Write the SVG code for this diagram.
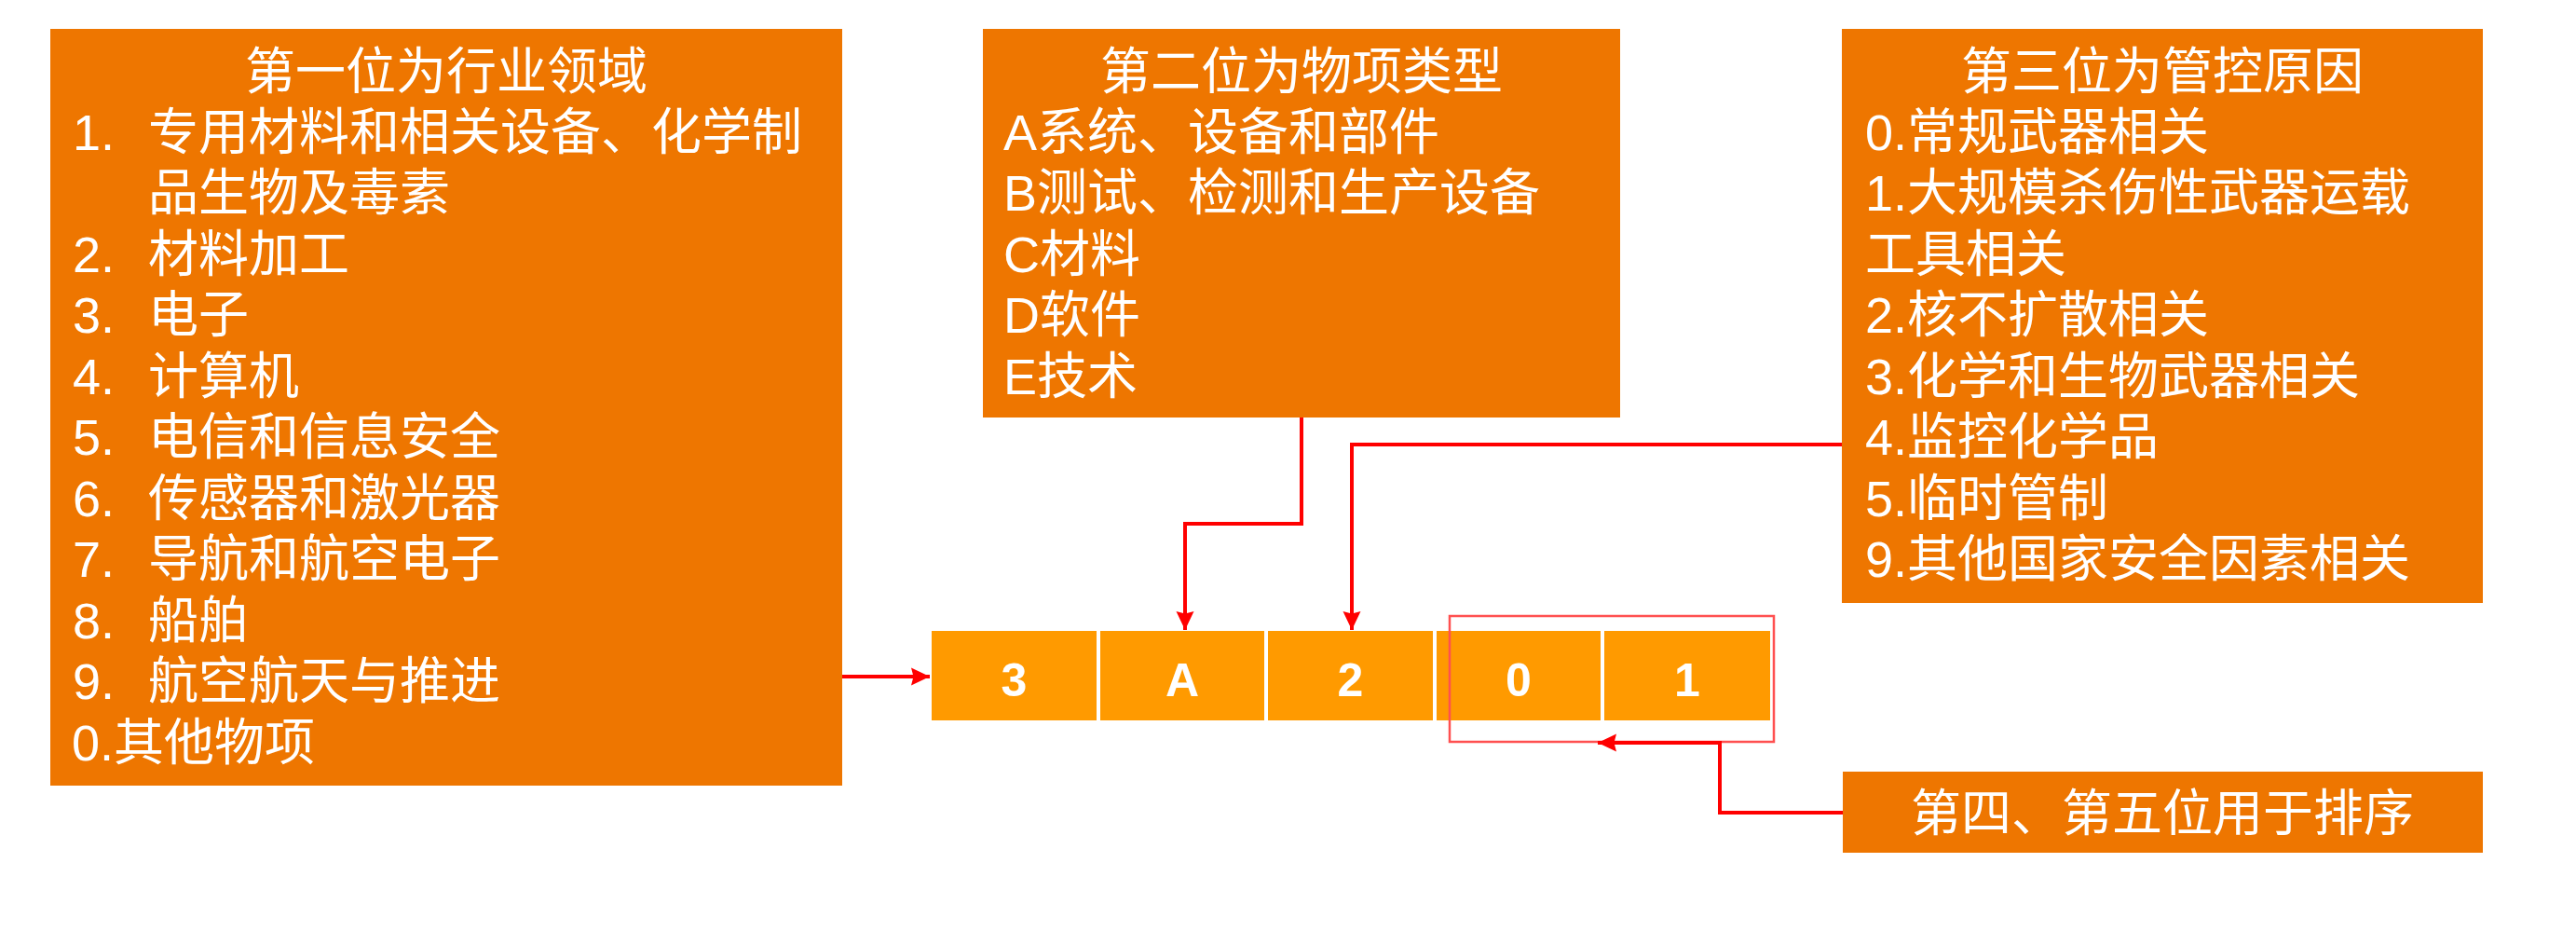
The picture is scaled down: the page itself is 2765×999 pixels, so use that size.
<svg xmlns="http://www.w3.org/2000/svg" width="2765" height="999" viewBox="0 0 2765 999">
<style>
.box{fill:#EE7600}
.cell{fill:#FF9A00}
.t{font-family:"Liberation Sans","Noto Sans CJK SC",sans-serif;font-size:54px;fill:#FFFFFF}
.c{font-family:"Liberation Sans","Noto Sans CJK SC",sans-serif;font-size:50px;font-weight:bold;fill:#FFFFFF;text-anchor:middle}
.mid{text-anchor:middle}
.ln{fill:none;stroke:#FF0000;stroke-width:4}
</style>
<defs>
<marker id="arr" markerUnits="userSpaceOnUse" markerWidth="22" markerHeight="22" viewBox="0 0 22 22" refX="20" refY="11" orient="auto">
<path d="M0,1.5 L20,11 L0,20.5 L2.5,11 Z" fill="#FF0000"/>
</marker>
</defs>
<rect width="2765" height="999" fill="#FFFFFF"/>

<g id="node-industry">
<rect class="box" x="54" y="31" width="850" height="812"/>
<text class="t mid" x="479" y="96">第一位为行业领域</text>
<text class="t" y="161"><tspan x="78">1.</tspan><tspan x="159">专用材料和相关设备、化学制</tspan></text>
<text class="t" x="159" y="226">品生物及毒素</text>
<text class="t" y="292"><tspan x="78">2.</tspan><tspan x="159">材料加工</tspan></text>
<text class="t" y="357"><tspan x="78">3.</tspan><tspan x="159">电子</tspan></text>
<text class="t" y="423"><tspan x="78">4.</tspan><tspan x="159">计算机</tspan></text>
<text class="t" y="488"><tspan x="78">5.</tspan><tspan x="159">电信和信息安全</tspan></text>
<text class="t" y="554"><tspan x="78">6.</tspan><tspan x="159">传感器和激光器</tspan></text>
<text class="t" y="619"><tspan x="78">7.</tspan><tspan x="159">导航和航空电子</tspan></text>
<text class="t" y="685"><tspan x="78">8.</tspan><tspan x="159">船舶</tspan></text>
<text class="t" y="750"><tspan x="78">9.</tspan><tspan x="159">航空航天与推进</tspan></text>
<text class="t" x="77" y="816">0.其他物项</text>
</g>

<g id="node-type">
<rect class="box" x="1055" y="31" width="684" height="417"/>
<text class="t mid" x="1397" y="96">第二位为物项类型</text>
<text class="t" x="1077" y="161">A系统、设备和部件</text>
<text class="t" x="1077" y="226">B测试、检测和生产设备</text>
<text class="t" x="1077" y="292">C材料</text>
<text class="t" x="1077" y="357">D软件</text>
<text class="t" x="1077" y="423">E技术</text>
</g>

<g id="node-reason">
<rect class="box" x="1977" y="31" width="688" height="616"/>
<text class="t mid" x="2321" y="96">第三位为管控原因</text>
<text class="t" x="2002" y="161">0.常规武器相关</text>
<text class="t" x="2002" y="226">1.大规模杀伤性武器运载</text>
<text class="t" x="2002" y="292">工具相关</text>
<text class="t" x="2002" y="357">2.核不扩散相关</text>
<text class="t" x="2002" y="423">3.化学和生物武器相关</text>
<text class="t" x="2002" y="488">4.监控化学品</text>
<text class="t" x="2002" y="554">5.临时管制</text>
<text class="t" x="2002" y="619">9.其他国家安全因素相关</text>
</g>

<g id="node-sort">
<rect class="box" x="1978" y="828" width="687" height="87"/>
<text class="t mid" x="2321" y="892">第四、第五位用于排序</text>
</g>

<g id="node-code">
<rect class="cell" x="1000" y="677" width="177" height="96"/>
<rect class="cell" x="1181" y="677" width="176" height="96"/>
<rect class="cell" x="1361" y="677" width="177" height="96"/>
<rect class="cell" x="1542" y="677" width="176" height="96"/>
<rect class="cell" x="1722" y="677" width="178" height="96"/>
<text class="c" x="1088.5" y="747">3</text>
<text class="c" x="1269" y="747">A</text>
<text class="c" x="1449.5" y="747">2</text>
<text class="c" x="1630" y="747">0</text>
<text class="c" x="1811" y="747">1</text>
</g>

<g id="node-highlight">
<rect x="1556" y="661" width="348" height="135" fill="none" stroke="#FF5050" stroke-width="2.5"/>
</g>

<g id="connectors">
<path class="ln" d="M904,726 H998" marker-end="url(#arr)"/>
<path class="ln" d="M1397,448 V562 H1272 V676" marker-end="url(#arr)"/>
<path class="ln" d="M1977,477 H1451 V676" marker-end="url(#arr)"/>
<path class="ln" d="M1978,872 H1846 V797 H1715" marker-end="url(#arr)"/>
</g>
</svg>
